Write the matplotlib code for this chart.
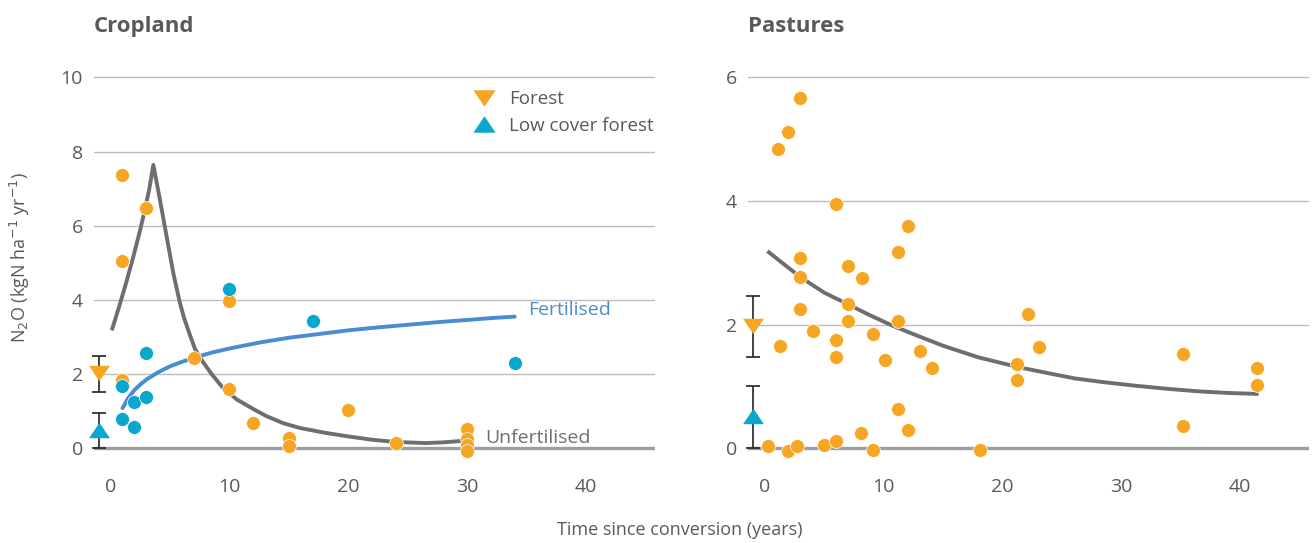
import matplotlib
matplotlib.use("Agg")
import matplotlib.pyplot as plt
from matplotlib.lines import Line2D

plt.rcParams['font.family'] = ['Liberation Sans Narrow', 'Open Sans', 'DejaVu Sans']

ORANGE = '#F6A623'
CYAN = '#0AA6CD'
BLUE = '#4A8DCF'
GREY = '#6D6E71'
TXT = '#595959'

# wide triangles like in the original chart
TRI_DOWN = [(-1.35, 1), (1.35, 1), (0, -1)]
TRI_UP = [(-1.35, -1), (1.35, -1), (0, 1)]

# --- Cropland ---
crop_unf_x = [1, 1, 3, 1, 7, 10, 10, 12, 15, 15, 20, 24, 30, 30, 30, 30]
crop_unf_y = [7.38, 5.06, 6.49, 1.85, 2.44, 3.98, 1.6, 0.68, 0.28, 0.07, 1.04, 0.14, 0.53, 0.25, 0.1, -0.06]
crop_fert_x = [1, 1, 2, 2, 3, 3, 10, 17, 34]
crop_fert_y = [1.68, 0.78, 1.25, 0.58, 2.56, 1.38, 4.3, 3.42, 2.31]

unf_curve_x = [0.15, 0.7, 1.3, 1.9, 2.5, 2.9, 3.25, 3.6, 4.16, 4.72, 5.28, 5.84, 6.2, 6.68,
               7.1, 7.66, 8.5, 9.48, 10.6, 12.0, 13.1, 14.5, 15.9, 18, 20, 22, 24, 26.5, 28, 29.6]
unf_curve_y = [3.23, 3.8, 4.45, 5.15, 5.9, 6.45, 6.98, 7.64, 6.69, 5.7, 4.72, 3.91, 3.5, 3.05,
               2.68, 2.38, 2.0, 1.62, 1.32, 1.06, 0.87, 0.68, 0.55, 0.42, 0.32, 0.23, 0.17, 0.14, 0.16, 0.2]
fert_curve_x = [1, 1.5, 2, 2.5, 3, 4, 5, 6, 7, 8.5, 10, 12.5, 15, 17.5, 20, 22.5, 25, 27.5, 30, 32, 34]
fert_curve_y = [1.08, 1.36, 1.57, 1.72, 1.85, 2.05, 2.21, 2.33, 2.44, 2.58, 2.69, 2.85, 2.98, 3.08,
                3.18, 3.26, 3.33, 3.40, 3.46, 3.51, 3.55]

crop_forest = (-1, 2.03, 1.53, 2.48)
crop_lowcover = (-1, 0.49, 0.0, 0.96)

# --- Pastures ---
past_x = [3, 2, 1.1, 6, 12.1, 11.2, 3, 7, 8.2, 3, 7, 3, 22.2, 7, 11.2, 4.1, 9.1, 6, 1.3, 23.1,
          13.1, 35.2, 6, 10.1, 21.2, 14.1, 41.4, 21.2, 41.4, 11.2, 35.2, 12.1, 8.1, 0.3, 2,
          2.7, 5, 6, 9.1, 18.1]
past_y = [5.67, 5.12, 4.84, 3.95, 3.59, 3.17, 3.08, 2.95, 2.76, 2.77, 2.34, 2.25, 2.18, 2.06, 2.06,
          1.9, 1.85, 1.75, 1.66, 1.64, 1.57, 1.53, 1.48, 1.43, 1.36, 1.3, 1.3, 1.1, 1.02, 0.63,
          0.36, 0.3, 0.25, 0.03, -0.04, 0.03, 0.05, 0.12, -0.02, -0.02]
past_curve_x = [0.36, 3, 5, 7.1, 9, 10.8, 13, 15, 18, 21.4, 24, 26.1, 28.5, 31.3, 34, 36.6, 39, 41.4]
past_curve_y = [3.17, 2.77, 2.52, 2.32, 2.14, 1.98, 1.81, 1.66, 1.47, 1.31, 1.21, 1.13, 1.07, 1.01,
                0.96, 0.92, 0.895, 0.88]

past_forest = (-1, 1.98, 1.47, 2.46)
past_lowcover = (-1, 0.52, 0.0, 1.0)


def style_axes(ax, yticks, ylim, title):
    ax.set_xlim(-1.4, 45.8)
    ax.set_ylim(*ylim)
    ax.set_yticks(yticks)
    ax.set_xticks([0, 10, 20, 30, 40])
    for s in ax.spines.values():
        s.set_visible(False)
    ax.tick_params(length=0, labelsize=14, labelcolor=TXT)
    ax.tick_params(axis='x', pad=11)
    ax.tick_params(axis='y', pad=8)
    for t in yticks[1:]:
        ax.axhline(t, color='#BDBDBD', lw=1.0, zorder=0)
    ax.axhline(0, color='#9E9E9E', lw=2.4, zorder=0)
    ax.set_title(title, loc='left', fontsize=16, fontweight='bold', color=TXT,
                 x=0.0, y=1.0, pad=22)


def ref_points(ax, forest, lowcover):
    for (x, y, lo, hi), mk, col in [(forest, TRI_DOWN, ORANGE), (lowcover, TRI_UP, CYAN)]:
        eb = ax.errorbar([x], [y], yerr=[[y - lo], [hi - y]], fmt='none', ecolor='#222222',
                         elinewidth=1.2, capsize=5, capthick=1.2, zorder=3)
        for art in eb.get_children():
            art.set_clip_on(False)
        ax.plot([x], [y], marker=mk, color=col, ms=15, mec='none', ls='none',
                zorder=4, clip_on=False)


fig = plt.figure(figsize=(13.12, 5.43), dpi=100)
ax1 = fig.add_axes([0.0716, 0.1471, 0.4276, 0.7377])
ax2 = fig.add_axes([0.5701, 0.1471, 0.4276, 0.7377])

style_axes(ax1, [0, 2, 4, 6, 8, 10], (-0.4, 10.4), 'Cropland')
style_axes(ax2, [0, 2, 4, 6], (-0.24, 6.24), 'Pastures')

# Cropland
ax1.plot(unf_curve_x, unf_curve_y, color=GREY, lw=2.8, zorder=2, solid_joinstyle='round')
ax1.plot(fert_curve_x, fert_curve_y, color=BLUE, lw=2.8, zorder=2, solid_capstyle='round')
ax1.plot(crop_unf_x, crop_unf_y, 'o', color=ORANGE, ms=10, mec='white', mew=0.5, zorder=5)
ax1.plot(crop_fert_x, crop_fert_y, 'o', color=CYAN, ms=10, mec='white', mew=0.5, zorder=5)
ref_points(ax1, crop_forest, crop_lowcover)
ax1.text(35.1, 3.72, 'Fertilised', color=BLUE, fontsize=14, va='center')
ax1.text(31.5, 0.28, 'Unfertilised', color=GREY, fontsize=14, va='center')

handles = [Line2D([], [], marker=TRI_DOWN, color=ORANGE, ls='none', ms=16, mec='none'),
           Line2D([], [], marker=TRI_UP, color=CYAN, ls='none', ms=16, mec='none')]
ax1.legend(handles, ['Forest', 'Low cover forest'], loc='upper left',
           bbox_to_anchor=(0.648, 0.95), frameon=False, fontsize=13.5, labelcolor=TXT,
           handletextpad=0.35, labelspacing=0.45, borderaxespad=0)

# Pastures
ax2.plot(past_curve_x, past_curve_y, color=GREY, lw=2.8, zorder=2, solid_joinstyle='round')
ax2.plot(past_x, past_y, 'o', color=ORANGE, ms=10, mec='white', mew=0.5, zorder=5)
ref_points(ax2, past_forest, past_lowcover)

fig.text(20 / 1312, 1 - 258 / 543, r'N$_2$O (kgN ha$^{-1}$ yr$^{-1}$)', rotation=90,
         ha='center', va='center', fontsize=13, color=TXT)
fig.text(680 / 1312, 1 - 530 / 543, 'Time since conversion (years)', ha='center',
         va='center', fontsize=13, color=TXT)

fig.savefig('out.png', dpi=100)
